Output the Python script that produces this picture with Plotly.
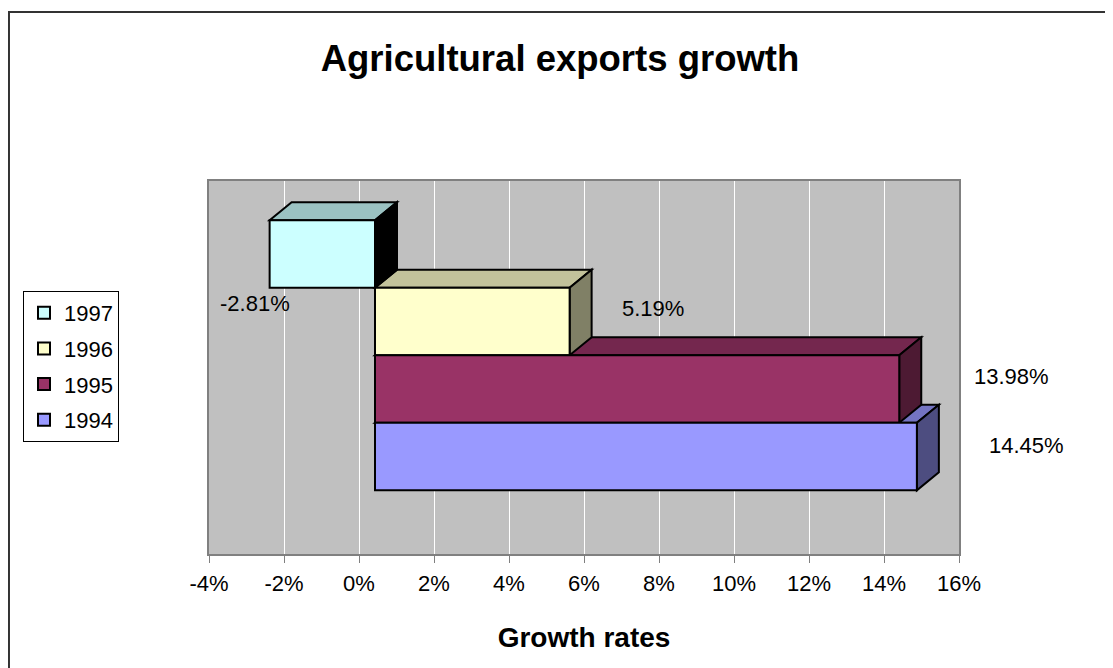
import plotly.graph_objects as go

# ---- data ----
years = ["1994", "1995", "1996", "1997"]
growth = [14.45, 13.98, 5.19, -2.81]          # percent
label_text = ["14.45%", "13.98%", "5.19%", "-2.81%"]
tick_vals = [-4, -2, 0, 2, 4, 6, 8, 10, 12, 14, 16]
tick_text = ["-4%", "-2%", "0%", "2%", "4%", "6%", "8%", "10%", "12%", "14%", "16%"]

# ---- styles ----
front_col = ["#9999FF", "#993366", "#FFFFCC", "#CCFFFF"]
top_col = ["#7474C2", "#74274E", "#C2C29B", "#9BC2C2"]
side_col = ["#4D4D80", "#4D1A33", "#808066", "#000000"]
FONT = "Liberation Sans, Arial, sans-serif"

PX_PER_PCT = 37.5
PX_PER_UNIT = 67.5
front_shift = 16 / PX_PER_PCT      # front faces drawn offset from the back wall
depth_dx = 22 / PX_PER_PCT         # 3D depth in x (data units)
depth_dy = 18 / PX_PER_UNIT        # 3D depth in y (data units)

# label offsets (pixels): (xanchor, xshift, yshift)
label_pos = [("left", 70, 11), ("left", 73, 13), ("left", 50, 13), ("center", -15, -50)]

fig = go.Figure()
shapes = []
annotations = []

# bars (added 1997 first so the legend lists 1997 at the top)
for i in reversed(range(len(years))):
    fig.add_trace(go.Bar(
        x=[growth[i]], y=[i], base=front_shift, orientation="h", width=1,
        name=years[i], legendgroup=years[i],
        marker=dict(color=front_col[i], line=dict(color="black", width=2)),
        hoverinfo="skip",
    ))

# 3D top and side faces, drawn from the bottom bar upwards
for i, v in enumerate(growth):
    lo, hi = min(0, v) + front_shift, max(0, v) + front_shift
    yt, yb = i + 0.5, i - 0.5
    top_path = (f"M{lo},{yt} L{hi},{yt} L{hi + depth_dx},{yt + depth_dy} "
                f"L{lo + depth_dx},{yt + depth_dy} Z")
    side_path = (f"M{hi},{yb} L{hi},{yt} L{hi + depth_dx},{yt + depth_dy} "
                 f"L{hi + depth_dx},{yb + depth_dy} Z")
    for p, c in ((top_path, top_col[i]), (side_path, side_col[i])):
        shapes.append(dict(type="path", path=p, xref="x", yref="y",
                           fillcolor=c, line=dict(color="black", width=2),
                           layer="between"))
    anc, xs, ys = label_pos[i]
    annotations.append(dict(
        x=v + front_shift, y=i, xref="x", yref="y", text=label_text[i],
        showarrow=False, xanchor=anc, yanchor="middle", xshift=xs, yshift=ys,
        font=dict(family=FONT, size=22, color="black"),
    ))

# outer chart border
shapes.append(dict(type="rect", xref="paper", yref="paper",
                   x0=-0.2667, x1=1.33, y0=-0.4, y1=1.4531,
                   line=dict(color="#333333", width=2), layer="above"))

fig.update_layout(
    width=1105, height=660,
    margin=dict(l=201, r=154, t=173, b=114),
    paper_bgcolor="white", plot_bgcolor="#C0C0C0",
    font=dict(family=FONT, color="black"),
    title=dict(text="<b>Agricultural exports growth</b>", x=552 / 1105, xref="container",
               xanchor="center", y=1 - 50 / 660, yref="container", yanchor="middle",
               font=dict(family=FONT, size=36.5, color="black")),
    barmode="overlay",
    showlegend=True,
    legend=dict(x=-0.248, y=0.705, xanchor="left", yanchor="top",
                traceorder="grouped", tracegroupgap=4,
                bordercolor="black", borderwidth=1, bgcolor="white",
                font=dict(family=FONT, size=22, color="black")),
    xaxis=dict(range=[-4, 16], tickvals=tick_vals, ticktext=tick_text,
               showgrid=True, gridcolor="white", gridwidth=1, zeroline=False,
               showline=True, mirror=True, linecolor="#808080", linewidth=2,
               ticks="outside", ticklen=7, tickcolor="#808080", tickwidth=1,
               ticklabelstandoff=2,
               tickfont=dict(family=FONT, size=22, color="black"),
               title=dict(text="<b>Growth rates</b>", standoff=32,
                          font=dict(family=FONT, size=28, color="black"))),
    yaxis=dict(range=[-1.444, 4.081], showticklabels=False, showgrid=False,
               zeroline=False, showline=True, mirror=True, linecolor="#808080",
               linewidth=2, ticks=""),
    shapes=shapes,
    annotations=annotations,
)

fig.write_html("out.html")
